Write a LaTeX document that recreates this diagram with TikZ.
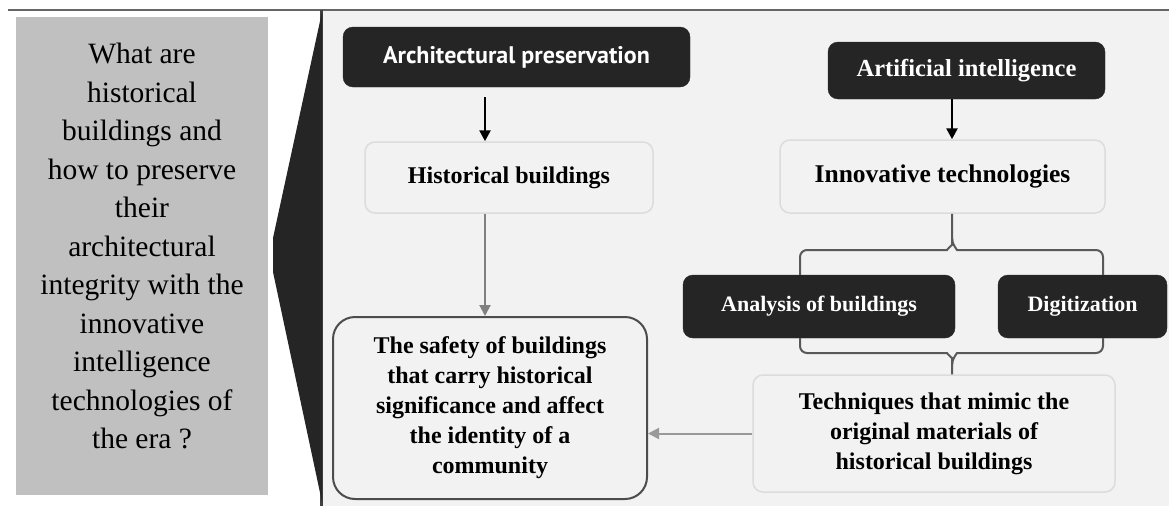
\documentclass[tikz,border=0pt]{standalone}
\usepackage{fontspec}
\setmainfont{Liberation Serif}
\newfontfamily\boxsans{PT Sans}
\usetikzlibrary{calc,arrows.meta}
\definecolor{panelgray}{HTML}{F2F2F2}
\definecolor{askgray}{HTML}{C0C0C0}
\definecolor{darkbox}{HTML}{252525}
\definecolor{rimgray}{HTML}{DCDCDC}

\begin{document}
\begin{tikzpicture}[x=1pt,y=1pt,
  darknode/.style={draw=darkbox,fill=darkbox,text=white,rounded corners=10pt,
    inner sep=0pt,font=\fontsize{22}{28}\selectfont\bfseries},
  lightnode/.style={draw=rimgray,line width=1.5pt,fill=panelgray,rounded corners=10pt,
    inner sep=0pt,align=center,font=\fontsize{24}{30}\selectfont\bfseries},
  darkarrow/.style={line width=2.5pt,-{Triangle[length=11pt,width=11pt]}},
  greyarrow/.style={draw=black!50,line width=2pt,-{Triangle[length=11pt,width=11pt]}},
  bracel/.style={draw=black!65,line width=2pt,rounded corners=7pt}]

\useasboundingbox (0,0) rectangle (1169,-506);

% frame
\fill[panelgray] (322,-11) rectangle (1169,-506);
\draw[line width=2pt,black!60] (8,-10) -- (1169,-10);
\draw[line width=3pt,black!75] (321,-10) -- (321,-506);
\fill[darkbox] (322,-12) -- (273,-238) -- (273,-272) -- (322,-502) -- cycle;

% question
\fill[askgray] (16,-17) rectangle (268,-495);
\node[align=center,font=\fontsize{29.5}{38.5}\selectfont] (ask) at (142,-246)
  {What are\\historical\\buildings and\\how to preserve\\their\\architectural\\
   integrity with the\\innovative\\intelligence\\technologies of\\the era ?};

\coordinate (lx) at (485,0);
\coordinate (rx) at (952,0);

\node[darknode,minimum width=347,minimum height=60,font=\boxsans\fontsize{24}{28}\selectfont\bfseries]
  (apres) at (516.5,-57) {Architectural preservation};
\node[lightnode,minimum width=288,minimum height=71] (hist) at (509,-177.5) {Historical buildings};
\node[lightnode,draw=black!70,line width=2pt,rounded corners=22pt,minimum width=314,minimum height=182]
  (safe) at (490,-408) {The safety of buildings\\that carry historical\\significance and affect\\the identity of a\\community};

\node[darknode,minimum width=277,minimum height=57,font=\fontsize{24.5}{28}\selectfont\bfseries]
  (ai) at (966.5,-70.5) {Artificial intelligence};
\node[lightnode,minimum width=325,minimum height=73,font=\fontsize{25.5}{30}\selectfont\bfseries]
  (innov) at (942.5,-176.5) {Innovative technologies};
\node[darknode,minimum width=272,minimum height=63] (anal) at (819,-306.5) {Analysis of buildings};
\node[darknode,minimum width=169,minimum height=63] (digit) at (1082.5,-306.5) {Digitization};
\node[lightnode,minimum width=362,minimum height=117] (tech) at (934,-433.5)
  {Techniques that mimic the\\original materials of\\historical buildings};

% arrows
\draw[darkarrow,shorten <=10pt] (apres.south -| lx) -- (hist.north -| lx);
\draw[greyarrow] (hist.south -| lx) -- (safe.north -| lx);
\draw[darkarrow] (ai.south -| rx) -- (innov.north -| rx);
\draw[greyarrow,draw=black!40] (tech.west) -- (safe.east |- tech.west);

% braces
\draw[bracel] (anal.north -| 800,0) |- (940,-250) to[out=0,in=270] (952,-238) -- (innov.south -| rx);
\draw[bracel] (digit.north -| 1103,0) |- (964,-250) to[out=180,in=270] (952,-238);
\draw[bracel] (anal.south -| 800,0) |- (940,-353) to[out=0,in=90] (952,-365) -- (tech.north -| rx);
\draw[bracel] (digit.south -| 1103,0) |- (964,-353) to[out=180,in=90] (952,-365);

\end{tikzpicture}
\end{document}
